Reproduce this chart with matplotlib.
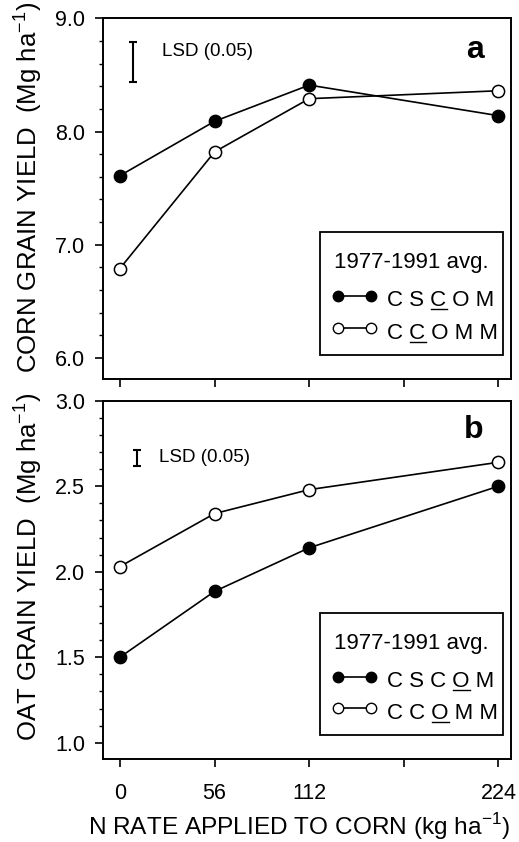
import matplotlib
matplotlib.use("Agg")
import matplotlib.pyplot as plt
from matplotlib.lines import Line2D
from matplotlib.patches import Rectangle
from matplotlib.ticker import MultipleLocator, FixedLocator

plt.rcParams['font.family'] = ['Liberation Sans', 'DejaVu Sans']

# ---------------- data ----------------
n_rate = [0, 56, 112, 224]
x_ticks = [0, 56, 112, 168, 224]
x_ticklabels = ['0', '56', '112', '', '224']

corn_cscom = [7.61, 8.09, 8.41, 8.14]
corn_ccomm = [6.79, 7.82, 8.29, 8.36]
corn_lsd_x = 8.0
corn_lsd_lo, corn_lsd_hi = 8.44, 8.79

oat_cscom = [1.50, 1.885, 2.14, 2.50]
oat_ccomm = [2.03, 2.34, 2.48, 2.64]
oat_lsd_x = 10.0
oat_lsd_lo, oat_lsd_hi = 2.62, 2.713

corn_yticks = [6.0, 7.0, 8.0, 9.0]
oat_yticks = [1.0, 1.5, 2.0, 2.5, 3.0]

legend_title = '1977-1991 avg.'
series_names = ['C S C O M', 'C C O M M']
corn_underline = [4, 2]   # index of underlined letter in each name
oat_underline = [6, 4]

# ---------------- figure ----------------
W, H = 519, 842
fig = plt.figure(figsize=(W / 100, H / 100), dpi=100)

axL, axW = 103 / W, 408 / W
ax1 = fig.add_axes([axL, 1 - 379 / H, axW, 360.7 / H])
ax2 = fig.add_axes([axL, 1 - 759 / H, axW, 358.3 / H])

TICK_FS = 15.5
LAB_FS = 18.5
XLAB_FS = 17.6


def style_axes(ax, ylim, yticks, yminor, labels_x):
    ax.set_xlim(-10, 231.4)
    ax.set_ylim(*ylim)
    for s in ax.spines.values():
        s.set_linewidth(1.4)
    ax.xaxis.set_major_locator(FixedLocator(x_ticks))
    ax.yaxis.set_major_locator(FixedLocator(yticks))
    ax.yaxis.set_minor_locator(MultipleLocator(yminor))
    ax.set_yticklabels(['%.1f' % v for v in yticks], fontsize=TICK_FS)
    if labels_x:
        ax.set_xticklabels(x_ticklabels, fontsize=TICK_FS)
    else:
        ax.set_xticklabels([])
    ax.tick_params(axis='both', which='major', direction='out', length=6,
                   width=1.2, top=False, right=False)
    ax.tick_params(axis='y', which='major', pad=7)
    ax.tick_params(axis='x', which='major', pad=11)
    ax.tick_params(axis='y', which='minor', direction='out', length=3,
                   width=1.0)


def plot_series(ax, filled, opened):
    ax.plot(n_rate, opened, '-', color='black', lw=1.2, marker='o', ms=8.8,
            mfc='white', mec='black', mew=1.1, zorder=3)
    ax.plot(n_rate, filled, '-', color='black', lw=1.2, marker='o', ms=8.8,
            mfc='black', mec='black', mew=1.1, zorder=4)


def draw_lsd(ax, x, lo, hi, tx, ty):
    ax.errorbar([x], [(lo + hi) / 2], yerr=[(hi - lo) / 2], fmt='none',
                ecolor='black', elinewidth=1.5, capsize=2.6, capthick=1.5)
    ax.text(tx, ty, 'LSD (0.05)', fontsize=13.5, ha='left', va='center')


style_axes(ax1, (5.814, 9.0), corn_yticks, 0.2, False)
style_axes(ax2, (0.905, 3.0), oat_yticks, 0.1, True)

plot_series(ax1, corn_cscom, corn_ccomm)
plot_series(ax2, oat_cscom, oat_ccomm)

draw_lsd(ax1, corn_lsd_x, corn_lsd_lo, corn_lsd_hi, 25, 8.71)
draw_lsd(ax2, oat_lsd_x, oat_lsd_lo, oat_lsd_hi, 23, 2.667)

ax1.text(0.912, 0.889, 'a', transform=ax1.transAxes, fontsize=23,
         fontweight='bold', ha='center', va='baseline')
ax2.text(0.909, 0.897, 'b', transform=ax2.transAxes, fontsize=23,
         fontweight='bold', ha='center', va='baseline')

LEG_FS = 16
legend_texts = []


def draw_legend(ax, underline_idx):
    ax.add_patch(Rectangle((0.532, 0.066), 0.448, 0.342, transform=ax.transAxes,
                           fill=True, facecolor='white', edgecolor='black',
                           lw=1.3, zorder=5))
    ax.text(0.755, 0.322, legend_title, transform=ax.transAxes,
            fontsize=LEG_FS, ha='center', va='center', zorder=6)
    rows = [0.230, 0.141]
    fills = ['black', 'white']
    for yy, fc, name, ui in zip(rows, fills, series_names, underline_idx):
        ax.add_line(Line2D([0.576, 0.657], [yy, yy], transform=ax.transAxes,
                           color='black', lw=1.2, marker='o', ms=7.5,
                           mfc=fc, mec='black', mew=1.0, zorder=6))
        t = ax.text(0.697, yy - 0.029, name, transform=ax.transAxes,
                    fontsize=LEG_FS, ha='left', va='baseline', zorder=6)
        legend_texts.append((ax, t, name, ui, yy - 0.029))


draw_legend(ax1, corn_underline)
draw_legend(ax2, oat_underline)

# axis labels
fig.text(0.0713, 1 - 187 / H, r'CORN GRAIN YIELD  (Mg ha$^{\mathregular{-1}}$)',
         rotation=90, rotation_mode='anchor', ha='center', va='baseline',
         fontsize=LAB_FS)
fig.text(0.0713, 1 - 567 / H, r'OAT GRAIN YIELD  (Mg ha$^{\mathregular{-1}}$)',
         rotation=90, rotation_mode='anchor', ha='center', va='baseline',
         fontsize=LAB_FS)
fig.text(299 / W, 1 - 835 / H, r'N RATE APPLIED TO CORN (kg ha$^{\mathregular{-1}}$)',
         ha='center', va='baseline', fontsize=XLAB_FS)

# underline the highlighted crop letter in the legend names
fig.canvas.draw()
r = fig.canvas.get_renderer()
for ax, t, name, ui, yb in legend_texts:
    x0, ybase = ax.transAxes.transform((0.697, yb))
    tmp = fig.text(0, 0, name[:ui + 1], fontsize=LEG_FS)
    w_pre = tmp.get_window_extent(r).width
    tmp.remove()
    tmp = fig.text(0, 0, name[ui], fontsize=LEG_FS)
    w_ch = tmp.get_window_extent(r).width
    tmp.remove()
    xr = x0 + w_pre
    xl = xr - w_ch
    yu = ybase - 3
    (fx0, fy0), (fx1, fy1) = fig.transFigure.inverted().transform([(xl, yu), (xr, yu)])
    fig.add_artist(Line2D([fx0, fx1], [fy0, fy1], transform=fig.transFigure,
                          color='black', lw=1.0, zorder=7))

fig.savefig('out.png', dpi=100)
